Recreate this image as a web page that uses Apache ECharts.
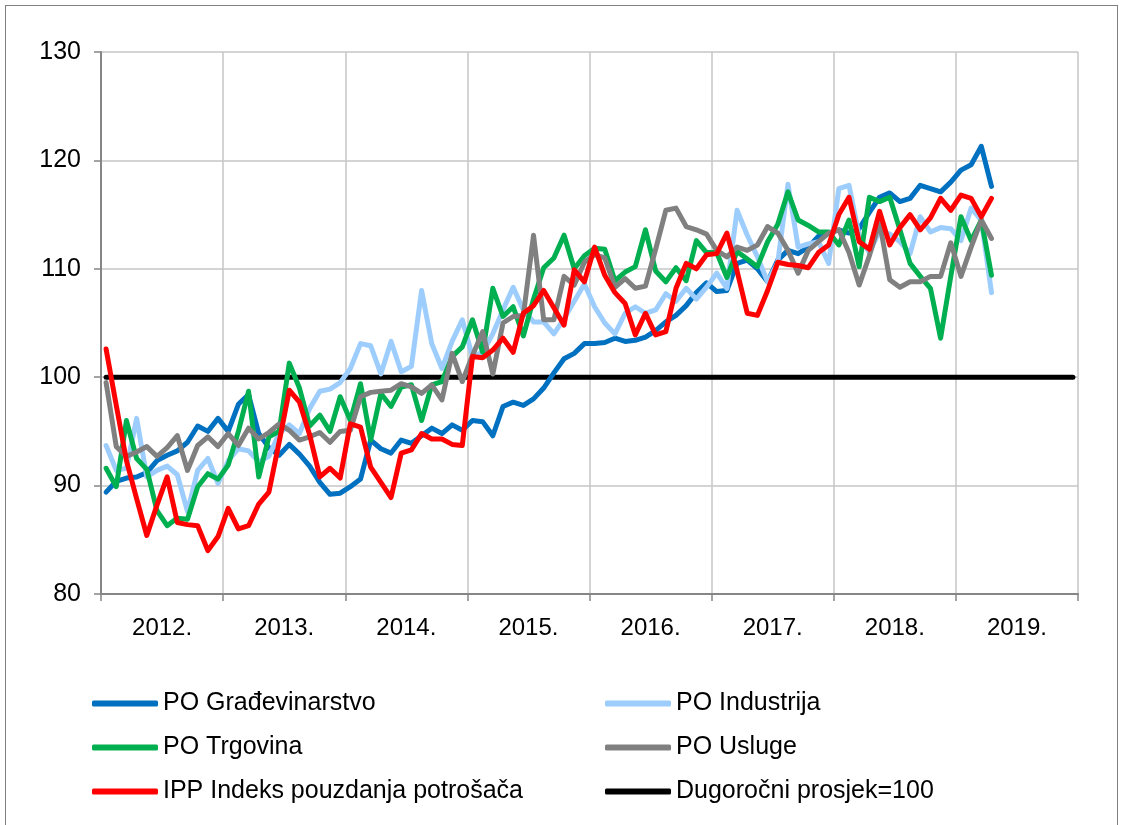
<!DOCTYPE html>
<html>
<head>
<meta charset="utf-8">
<script src="https://cdn.jsdelivr.net/npm/echarts@6/dist/echarts.min.js"></script>
<style>
  html, body { margin: 0; padding: 0; background: #fff; overflow: hidden; }
  #frame { position: absolute; left: 5px; top: 5px; width: 1111px; height: 840px; border: 1px solid #7f7f7f; }
  #chart { position: absolute; left: 0; top: 0; width: 1121px; height: 825px; }
</style>
</head>
<body>
<div id="frame"></div>
<div id="chart"></div>
<script>
// godine na osi x
const years = ['2012.', '2013.', '2014.', '2015.', '2016.', '2017.', '2018.', '2019.'];

// mjeseci od 1/2012 do 12/2019
const months = [];
for (let y = 2012; y <= 2019; y++) {
  for (let m = 1; m <= 12; m++) months.push(m + '/' + y);
}

const gradevinarstvo = [
  89.4, 90.4, 90.7, 90.8, 91.2, 92.3, 92.8, 93.2, 94.0, 95.5, 95.0, 96.2,
  95.0, 97.5, 98.4, 94.8, 93.5, 92.8, 93.8, 92.9, 91.8, 90.3, 89.2, 89.3,
  89.9, 90.6, 94.2, 93.4, 93.0, 94.2, 93.9, 94.6, 95.3, 94.8, 95.6, 95.1,
  96.0, 95.9, 94.6, 97.3, 97.7, 97.4, 98.0, 99.0, 100.4, 101.7, 102.2, 103.1,
  103.1, 103.2, 103.6, 103.3, 103.4, 103.7, 104.3, 105.1, 105.7, 106.6, 107.8, 108.7,
  107.9, 108.0, 110.5, 110.8, 110.0, 108.8, 110.8, 111.7, 111.4, 112.0, 113.0, 113.3,
  113.6, 113.3, 113.7, 115.2, 116.6, 117.0, 116.2, 116.5, 117.7, 117.4, 117.1, 118.0,
  119.1, 119.6, 121.3, 117.6
];

const industrija = [
  93.7, 91.4, 91.6, 96.2, 90.8, 91.4, 91.8, 91.0, 87.6, 91.4, 92.5, 90.2,
  92.3, 93.4, 93.2, 92.2, 92.7, 94.8, 95.6, 94.8, 97.1, 98.7, 98.9, 99.5,
  100.8, 103.1, 102.9, 100.3, 103.3, 100.5, 101.0, 108.0, 103.1, 100.8, 103.3, 105.3,
  101.9, 102.3, 104.0, 106.2, 108.3, 106.2, 105.1, 105.1, 104.0, 105.4, 107.0, 108.6,
  106.5, 105.0, 104.0, 105.9, 106.5, 105.9, 106.2, 107.7, 107.0, 108.2, 107.2, 108.3,
  109.6, 108.2, 115.4, 113.1, 111.1, 108.8, 110.6, 117.8, 112.0, 112.3, 112.5, 110.5,
  117.4, 117.7, 113.0, 111.5, 113.5, 113.2, 112.5, 111.4, 114.8, 113.4, 113.8, 113.7,
  112.6, 115.6, 114.5, 107.8
];

const trgovina = [
  91.6, 89.9, 96.0, 92.5, 91.5, 87.7, 86.3, 87.0, 86.9, 89.9, 91.1, 90.6,
  91.9, 95.0, 98.7, 90.8, 94.5, 95.0, 101.3, 99.0, 95.5, 96.5, 95.0, 98.2,
  96.0, 99.4, 94.2, 98.5, 97.3, 99.1, 99.3, 96.0, 99.3, 99.6, 101.9, 102.8,
  105.3, 102.3, 108.2, 105.6, 106.5, 103.8, 107.2, 110.1, 111.0, 113.1, 110.0, 111.2,
  111.9, 111.8, 108.9, 109.7, 110.2, 113.6, 109.8, 108.8, 110.1, 108.9, 112.6, 111.5,
  111.5, 109.2, 111.6, 110.9, 110.2, 112.5, 114.1, 117.1, 114.5, 114.0, 113.4, 113.4,
  112.2, 114.5, 110.2, 116.6, 116.2, 116.6, 113.6, 110.5, 109.3, 108.2, 103.6, 109.3,
  114.8, 112.6, 114.5, 109.4
];

const usluge = [
  99.5, 93.6, 92.7, 93.1, 93.6, 92.7, 93.5, 94.6, 91.4, 93.7, 94.5, 93.6,
  94.8, 93.7, 95.3, 94.3, 94.9, 95.7, 95.1, 94.2, 94.5, 94.9, 94.0, 95.0,
  95.1, 98.2, 98.6, 98.7, 98.8, 99.4, 99.1, 98.5, 99.3, 97.9, 102.2, 99.6,
  102.0, 104.2, 100.3, 105.0, 105.6, 105.7, 113.1, 105.3, 105.3, 109.3, 108.5, 110.6,
  111.3, 111.0, 108.3, 109.1, 108.2, 108.4, 111.8, 115.4, 115.6, 113.9, 113.6, 113.2,
  111.7, 111.1, 112.0, 111.7, 112.2, 113.9, 113.3, 111.7, 109.6, 111.7, 112.5, 113.3,
  113.6, 111.5, 108.5, 111.2, 114.3, 109.0, 108.3, 108.8, 108.8, 109.3, 109.3, 112.4,
  109.3, 112.0, 114.5, 112.8
];

const ipp = [
  102.6, 97.4, 92.3, 88.8, 85.4, 88.2, 90.8, 86.6, 86.4, 86.3, 84.0, 85.3,
  87.9, 86.0, 86.3, 88.3, 89.4, 94.0, 98.8, 97.7, 94.7, 90.8, 91.6, 90.7,
  95.7, 95.4, 91.7, 90.3, 88.9, 93.0, 93.3, 94.8, 94.3, 94.3, 93.8, 93.7,
  101.9, 101.8, 102.5, 103.6, 102.3, 105.9, 106.6, 108.0, 106.4, 104.8, 109.9, 108.8,
  112.0, 109.4, 107.8, 106.8, 103.9, 105.9, 103.9, 104.2, 108.2, 110.5, 110.0, 111.3,
  111.4, 113.3, 109.8, 105.9, 105.7, 108.0, 110.6, 110.4, 110.3, 110.1, 111.5, 112.2,
  115.0, 116.6, 112.5, 111.8, 115.3, 112.2, 113.8, 115.0, 113.6, 114.7, 116.5, 115.4,
  116.8, 116.5, 114.8, 116.5
];

const prosjek = months.map(() => 100);

const font = "'Liberation Sans', Arial, sans-serif";

const chart = echarts.init(document.getElementById('chart'));

function lineSeries(name, data, color, z) {
  return {
    name: name,
    type: 'line',
    xAxisIndex: 0,
    data: data,
    symbol: 'none',
    z: z,
    lineStyle: { color: color, width: 5, cap: 'round', join: 'round' },
    itemStyle: { color: color },
    emphasis: { disabled: true }
  };
}

const legendBase = {
  orient: 'vertical',
  top: 691,
  padding: 0,
  itemGap: 19,
  itemWidth: 66,
  itemHeight: 6,
  icon: 'roundRect',
  selectedMode: false,
  textStyle: { fontSize: 25, fontFamily: font, color: '#000' }
};

var option = {
  animation: false,
  grid: { left: 101, right: 43, top: 52, bottom: 231 },
  legend: [
    Object.assign({}, legendBase, {
      left: 92,
      data: ['PO Građevinarstvo', 'PO Trgovina', 'IPP Indeks pouzdanja potrošača']
    }),
    Object.assign({}, legendBase, {
      left: 605,
      data: ['PO Industrija', 'PO Usluge', 'Dugoročni prosjek=100']
    })
  ],
  xAxis: [
    {
      type: 'category',
      data: months,
      boundaryGap: true,
      show: false
    },
    {
      type: 'category',
      data: years,
      boundaryGap: true,
      position: 'bottom',
      axisLine: { show: true, lineStyle: { color: '#868686', width: 2 } },
      axisTick: { show: true, interval: 0, length: 7, lineStyle: { color: '#868686', width: 1.5 } },
      axisLabel: { interval: 0, fontSize: 24, fontFamily: font, color: '#000', margin: 22 },
      splitLine: { show: true, interval: 0, lineStyle: { color: '#c6c6c6', width: 1.5 } }
    }
  ],
  yAxis: {
    type: 'value',
    min: 80,
    max: 130,
    interval: 10,
    axisLine: { show: true, lineStyle: { color: '#868686', width: 2 } },
    axisTick: { show: true, length: 7, lineStyle: { color: '#868686', width: 1.5 } },
    axisLabel: { fontSize: 25, fontFamily: font, color: '#000', margin: 20 },
    splitLine: { show: true, lineStyle: { color: '#c6c6c6', width: 1.5 } }
  },
  series: [
    lineSeries('Dugoročni prosjek=100', prosjek, '#000000', 2),
    lineSeries('PO Građevinarstvo', gradevinarstvo, '#0070c0', 3),
    lineSeries('PO Industrija', industrija, '#9dcdfc', 4),
    lineSeries('PO Trgovina', trgovina, '#00b050', 5),
    lineSeries('PO Usluge', usluge, '#808080', 6),
    lineSeries('IPP Indeks pouzdanja potrošača', ipp, '#ff0000', 7)
  ]
};

chart.setOption(option);
</script>
</body>
</html>
